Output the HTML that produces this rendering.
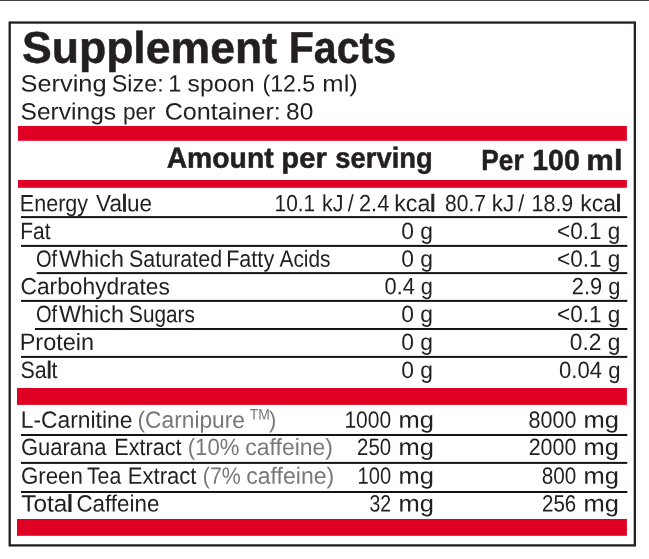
<!DOCTYPE html>
<html lang="en">
<head>
<meta charset="utf-8">
<title>Supplement Facts</title>
<style>
html,body{margin:0;padding:0;background:#fff;}
body{width:649px;height:559px;overflow:hidden;}
svg{display:block;}
text{font-family:'Liberation Sans', sans-serif;white-space:pre;}
.h{stroke:#231f20;stroke-width:0.9px;}
.b{font-weight:bold;stroke:#231f20;stroke-width:0.5px;stroke-linejoin:round;}
</style>
</head>
<body>
<svg width="649" height="559" viewBox="0 0 649 559" role="img" aria-label="Supplement Facts label">
<rect x="0" y="0" width="649" height="559" fill="#ffffff"/>
<rect x="9.7" y="22.55" width="625.15" height="522.85" fill="none" stroke="#231f20" stroke-width="2.3"/>
<rect x="0.00" y="0.00" width="649.00" height="1.00" fill="#404247"/>
<rect x="18.00" y="126.00" width="608.90" height="14.80" fill="#e00024"/>
<rect x="18.00" y="180.00" width="608.90" height="7.80" fill="#e00024"/>
<rect x="17.00" y="388.00" width="609.90" height="16.90" fill="#e00024"/>
<rect x="17.00" y="519.00" width="609.90" height="16.80" fill="#e00024"/>
<rect x="21.00" y="216.10" width="606.30" height="2.00" fill="#171314"/>
<rect x="21.00" y="244.90" width="606.30" height="2.00" fill="#171314"/>
<rect x="36.70" y="272.10" width="590.60" height="2.00" fill="#171314"/>
<rect x="21.00" y="299.90" width="606.30" height="2.00" fill="#171314"/>
<rect x="35.00" y="328.00" width="592.30" height="2.00" fill="#171314"/>
<rect x="21.00" y="355.90" width="606.30" height="2.00" fill="#171314"/>
<rect x="21.00" y="434.00" width="606.30" height="2.00" fill="#171314"/>
<rect x="21.00" y="461.90" width="606.30" height="2.00" fill="#171314"/>
<rect x="21.00" y="491.00" width="606.30" height="2.00" fill="#171314"/>
<g font-size="44.5" class="b">
<text fill="#231f20" transform="matrix(1.0018 0.0008 0 1 21.95 62.80)">Supplement</text>
<text fill="#231f20" transform="matrix(0.9238 0.00074 0 1 288.73 62.80)">Facts</text>
</g>
<g font-size="23.5">
<text fill="#231f20" transform="matrix(1.0805 0.00086 0 1 20.45 91.40)">Serving</text>
<text fill="#231f20" transform="matrix(0.9928 0.00079 0 1 111.76 91.40)">Size:</text>
<text fill="#231f20" transform="matrix(1.0000 0.0008 0 1 168.18 91.40)">1</text>
<text fill="#231f20" transform="matrix(1.0494 0.00084 0 1 187.61 91.40)">spoon</text>
<text fill="#231f20" transform="matrix(0.9843 0.00079 0 1 262.52 91.40)">(12.5</text>
<text fill="#231f20" transform="matrix(1.0891 0.00087 0 1 322.37 91.40)">ml)</text>
</g>
<g font-size="23.5">
<text fill="#231f20" transform="matrix(1.0465 0.00084 0 1 20.49 119.50)">Servings</text>
<text fill="#231f20" transform="matrix(0.9625 0.00077 0 1 122.96 119.50)">per</text>
<text fill="#231f20" transform="matrix(1.0714 0.00086 0 1 164.66 119.50)">Container:</text>
<text fill="#231f20" transform="matrix(1.0433 0.00083 0 1 286.06 119.50)">80</text>
</g>
<g font-size="29" class="b">
<text fill="#231f20" transform="matrix(0.9770 0.00078 0 1 166.67 167.70)">Amount</text>
<text fill="#231f20" transform="matrix(1.0082 0.00081 0 1 281.28 167.70)">per</text>
<text fill="#231f20" transform="matrix(0.9446 0.00076 0 1 335.36 167.70)">serving</text>
</g>
<g font-size="29" class="b">
<text fill="#231f20" transform="matrix(0.9062 0.00072 0 1 481.29 170.00)">Per</text>
<text fill="#231f20" transform="matrix(0.9824 0.00079 0 1 532.28 170.00)">100</text>
<text fill="#231f20" transform="matrix(1.0689 0.00086 0 1 586.36 170.00)">ml</text>
</g>
<g font-size="23.5">
<text fill="#231f20" transform="matrix(0.9163 0.00073 0 1 19.87 211.20)">Energy</text>
<text fill="#231f20" transform="matrix(0.9579 0.00077 0 1 96.06 211.20)">Va<tspan class="h">l</tspan>ue</text>
<text fill="#231f20" transform="matrix(0.8865 0.00071 0 1 274.55 211.20)">10.1</text>
<text fill="#231f20" transform="matrix(0.9136 0.00073 0 1 321.93 211.20)">kJ</text>
<text fill="#231f20" transform="matrix(0.9200 0.00074 0 1 347.66 211.20)">/</text>
<text fill="#231f20" transform="matrix(0.9236 0.00074 0 1 359.05 211.20)">2.4</text>
<text fill="#231f20" transform="matrix(0.9884 0.00079 0 1 394.22 211.20)">kca<tspan class="h">l</tspan></text>
<text fill="#231f20" transform="matrix(0.8943 0.00072 0 1 445.11 211.20)">80.7</text>
<text fill="#231f20" transform="matrix(0.9580 0.00077 0 1 491.76 211.20)">kJ</text>
<text fill="#231f20" transform="matrix(0.9200 0.00074 0 1 518.36 211.20)">/</text>
<text fill="#231f20" transform="matrix(0.9116 0.00073 0 1 531.60 211.20)">18.9</text>
<text fill="#231f20" transform="matrix(0.9806 0.00078 0 1 580.13 211.20)">kca<tspan class="h">l</tspan></text>
</g>
<g font-size="23.5">
<text fill="#231f20" transform="matrix(0.8913 0.00071 0 1 20.22 238.90)">Fat</text>
<text fill="#231f20" transform="matrix(0.9719 0.00078 0 1 401.23 238.90)">0 g</text>
<text fill="#231f20" transform="matrix(0.9597 0.00077 0 1 557.10 238.90)">&lt;0.1 g</text>
</g>
<g font-size="23.5">
<text fill="#231f20" transform="matrix(0.8547 0.00068 0 1 35.95 266.80)">Of</text>
<text fill="#231f20" transform="matrix(0.9937 0.00079 0 1 59.05 266.80)">Which</text>
<text fill="#231f20" transform="matrix(0.9131 0.00073 0 1 129.06 266.80)">Saturated</text>
<text fill="#231f20" transform="matrix(0.9200 0.00074 0 1 226.16 266.80)">Fatty</text>
<text fill="#231f20" transform="matrix(0.8867 0.00071 0 1 279.50 266.80)">Acids</text>
<text fill="#231f20" transform="matrix(0.9719 0.00078 0 1 401.23 266.80)">0 g</text>
<text fill="#231f20" transform="matrix(0.9597 0.00077 0 1 557.10 266.80)">&lt;0.1 g</text>
</g>
<g font-size="23.5">
<text fill="#231f20" transform="matrix(0.9691 0.00078 0 1 20.49 294.30)">Carbohydrates</text>
<text fill="#231f20" transform="matrix(0.9266 0.00074 0 1 384.57 294.30)">0.4 g</text>
<text fill="#231f20" transform="matrix(0.9313 0.00075 0 1 571.74 294.30)">2.9 g</text>
</g>
<g font-size="23.5">
<text fill="#231f20" transform="matrix(0.8547 0.00068 0 1 35.95 322.10)">Of</text>
<text fill="#231f20" transform="matrix(0.9937 0.00079 0 1 59.05 322.10)">Which</text>
<text fill="#231f20" transform="matrix(0.8830 0.00071 0 1 129.10 322.10)">Sugars</text>
<text fill="#231f20" transform="matrix(0.9719 0.00078 0 1 401.23 322.10)">0 g</text>
<text fill="#231f20" transform="matrix(0.9597 0.00077 0 1 557.10 322.10)">&lt;0.1 g</text>
</g>
<g font-size="23.5">
<text fill="#231f20" transform="matrix(1.0000 0.0008 0 1 19.70 350.00)">Protein</text>
<text fill="#231f20" transform="matrix(0.9719 0.00078 0 1 401.23 350.00)">0 g</text>
<text fill="#231f20" transform="matrix(0.9688 0.00078 0 1 569.83 350.00)">0.2 g</text>
</g>
<g font-size="23.5">
<text fill="#231f20" transform="matrix(0.9128 0.00073 0 1 20.56 378.10)">Sa<tspan class="h">l</tspan>t</text>
<text fill="#231f20" transform="matrix(0.9719 0.00078 0 1 401.23 378.10)">0 g</text>
<text fill="#231f20" transform="matrix(0.9402 0.00075 0 1 559.06 378.10)">0.04 g</text>
</g>
<g font-size="23.5">
<text fill="#231f20" transform="matrix(0.9723 0.00078 0 1 20.76 427.80)">L-Carnitine</text>
<text fill="#77787b" transform="matrix(0.9677 0.00077 0 1 137.55 427.80)">(Carnipure</text>
<text fill="#77787b" transform="matrix(0.9300 0.00074 0 1 269.03 427.80)">)</text>
<text fill="#231f20" transform="matrix(0.8949 0.00072 0 1 344.43 427.80)">1000</text>
<text fill="#231f20" transform="matrix(1.0847 0.00087 0 1 398.57 427.80)">mg</text>
<text fill="#231f20" transform="matrix(0.9134 0.00073 0 1 528.59 427.80)">8000</text>
<text fill="#231f20" transform="matrix(1.0847 0.00087 0 1 583.57 427.80)">mg</text>
</g>
<g font-size="15.3">
<text fill="#77787b" transform="matrix(0.9122 0.00073 0 1 249.67 419.60)">TM</text>
</g>
<g font-size="23.5">
<text fill="#231f20" transform="matrix(0.9352 0.00075 0 1 20.93 455.00)">Guarana</text>
<text fill="#231f20" transform="matrix(0.9211 0.00074 0 1 114.26 455.00)">Extract</text>
<text fill="#77787b" transform="matrix(0.9429 0.00075 0 1 187.69 455.00)">(10%</text>
<text fill="#77787b" transform="matrix(0.9777 0.00078 0 1 245.32 455.00)">caffeine)</text>
<text fill="#231f20" transform="matrix(0.8676 0.00069 0 1 357.12 455.00)">250</text>
<text fill="#231f20" transform="matrix(1.0847 0.00087 0 1 398.57 455.00)">mg</text>
<text fill="#231f20" transform="matrix(0.9120 0.00073 0 1 528.66 455.00)">2000</text>
<text fill="#231f20" transform="matrix(1.0847 0.00087 0 1 583.57 455.00)">mg</text>
</g>
<g font-size="23.5">
<text fill="#231f20" transform="matrix(0.9472 0.00076 0 1 20.92 483.80)">Green</text>
<text fill="#231f20" transform="matrix(0.9040 0.00072 0 1 86.95 483.80)">Tea</text>
<text fill="#231f20" transform="matrix(0.9408 0.00075 0 1 127.72 483.80)">Extract</text>
<text fill="#77787b" transform="matrix(0.9089 0.00073 0 1 202.84 483.80)">(7%</text>
<text fill="#77787b" transform="matrix(0.9811 0.00078 0 1 246.22 483.80)">caffeine)</text>
<text fill="#231f20" transform="matrix(0.8575 0.00069 0 1 357.50 483.80)">100</text>
<text fill="#231f20" transform="matrix(1.0847 0.00087 0 1 398.57 483.80)">mg</text>
<text fill="#231f20" transform="matrix(0.8805 0.0007 0 1 541.72 483.80)">800</text>
<text fill="#231f20" transform="matrix(1.0847 0.00087 0 1 583.57 483.80)">mg</text>
</g>
<g font-size="23.5">
<text fill="#231f20" transform="matrix(1.0379 0.00083 0 1 21.28 511.40)">Tota<tspan class="h">l</tspan></text>
<text fill="#231f20" transform="matrix(0.9522 0.00076 0 1 76.41 511.40)">Caffeine</text>
<text fill="#231f20" transform="matrix(0.8292 0.00066 0 1 369.47 511.40)">32</text>
<text fill="#231f20" transform="matrix(1.0847 0.00087 0 1 398.57 511.40)">mg</text>
<text fill="#231f20" transform="matrix(0.8730 0.0007 0 1 542.01 511.40)">256</text>
<text fill="#231f20" transform="matrix(1.0847 0.00087 0 1 583.57 511.40)">mg</text>
</g>
</svg>
</body>
</html>
